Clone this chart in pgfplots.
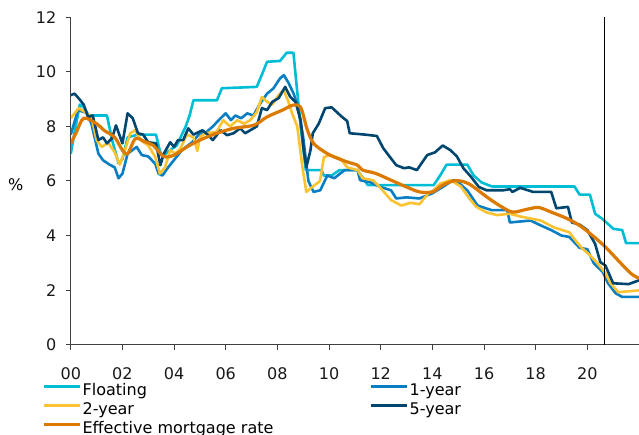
\documentclass[border=0pt]{standalone}
\usepackage{fontspec}
\setmainfont{DejaVu Sans}
\usepackage{pgfplots}
\pgfplotsset{compat=1.18}
\definecolor{cFloat}{HTML}{00BDD6}
\definecolor{cOne}{HTML}{0A7EC2}
\definecolor{cTwo}{HTML}{FBC232}
\definecolor{cFive}{HTML}{00466E}
\definecolor{cEff}{HTML}{DC7A00}
\definecolor{axgray}{HTML}{404040}
\newcommand{\fs}{\fontsize{16bp}{18bp}\selectfont}
\begin{document}
\begin{tikzpicture}
\begin{axis}[
  scale only axis,
  width=567.6bp, height=327bp,
  xmin=0, xmax=22, ymin=0, ymax=12,
  axis x line=bottom, axis y line=left,
  axis line style={-, axgray, line width=1bp},
  tick style={axgray, line width=1bp},
  tick align=outside, major tick length=5bp,
  xtick={0,2,...,22},
  xticklabels={00,02,04,06,08,10,12,14,16,18,20,{}},
  ytick={0,2,...,12},
  /pgf/number format/assume math mode=true,
  tick label style={font=\fs, text=black!90},
  yticklabel style={xshift=-6bp},
  xticklabel style={yshift=-14.5bp},
  ylabel={\%},
  every axis y label/.style={at={(axis description cs:-0.097,0.49)}, anchor=center, rotate=0, font=\fs},
  legend columns=2,
  legend cell align=left,
  legend style={at={(axis description cs:0,0)}, anchor=north west,
    xshift=-28.5bp, yshift=-38.9bp, draw=none, fill=none, inner sep=0pt,
    font=\fs, row sep=3.85bp,
    nodes={inner sep=0pt, text height=11.5bp, text depth=3.5bp},
    /tikz/every odd column/.append style={column sep=1bp},
    /tikz/every even column/.append style={column sep=96bp}},
  legend image code/.code={\path (0bp,0bp); \draw[#1, line width=3bp] (0bp,5bp) -- (36bp,5bp);},
  line join=round,
]
\addplot[cFloat, line width=2.6bp] coordinates {
(0,7.0) (0.15,7.8) (0.35,8.8) (0.5,8.7) (0.7,8.4) (1.0,8.4) (1.4,8.4) (1.6,7.5) (1.85,6.65) (2.0,6.8) (2.2,7.6) (2.6,7.7) (3.0,7.7) (3.3,7.7) (3.45,7.1) (3.55,6.9) (3.8,7.1) (4.1,7.3) (4.3,7.7) (4.45,8.0) (4.6,8.4) (4.75,8.96) (5.66,8.96) (5.85,9.4) (7.2,9.45) (7.4,9.9) (7.6,10.37) (8.1,10.4) (8.36,10.7) (8.62,10.7) (8.9,8.0) (9.1,6.4) (9.7,6.4) (9.8,6.2) (10.1,6.2) (10.4,6.4) (11.1,6.4) (11.5,5.85) (14.05,5.85) (14.3,6.2) (14.55,6.6) (15.35,6.6) (15.6,6.2) (15.9,5.95) (16.3,5.8) (19.5,5.8) (19.7,5.5) (20.1,5.5) (20.3,4.8) (20.6,4.6) (21.0,4.25) (21.35,4.2) (21.5,3.72) (22,3.72)
};
\addlegendentry{Floating}
\addplot[cOne, line width=2.6bp] coordinates {
(0,7.7) (0.28,8.6) (0.6,8.5) (0.8,8.1) (1.07,7.0) (1.25,6.76) (1.5,6.6) (1.7,6.5) (1.85,6.1) (2.0,6.27) (2.2,7.0) (2.55,7.25) (2.75,6.95) (3.0,6.9) (3.27,6.63) (3.4,6.27) (3.55,6.2) (3.77,6.5) (4.05,6.83) (4.3,7.13) (4.7,7.42) (5.0,7.75) (5.2,7.75) (5.5,8.0) (5.8,8.3) (6.0,8.48) (6.2,8.23) (6.37,8.4) (6.6,8.3) (6.83,8.48) (7.07,8.4) (7.34,8.85) (7.6,9.2) (7.85,9.4) (8.1,9.76) (8.25,9.88) (8.43,9.6) (8.63,9.2) (8.8,8.7) (9.0,7.6) (9.2,6.0) (9.4,5.6) (9.66,5.66) (9.93,6.2) (10.2,6.1) (10.6,6.4) (11.1,6.4) (11.2,6.03) (11.6,5.95) (12.0,5.78) (12.4,5.66) (12.6,5.36) (13.0,5.4) (13.5,5.36) (14.0,5.55) (14.4,5.78) (14.8,6.03) (15.0,5.96) (15.2,5.78) (15.35,5.66) (15.75,5.1) (16.3,4.93) (16.9,4.93) (17.0,4.48) (17.8,4.55) (18.2,4.37) (18.6,4.2) (19.0,4.0) (19.3,3.95) (19.7,3.55) (20.0,3.5) (20.25,2.98) (20.6,2.66) (20.8,2.25) (21.1,1.88) (21.35,1.75) (22,1.75)
};
\addlegendentry{1-year}
\addplot[cTwo, line width=2.6bp] coordinates {
(0,8.3) (0.3,8.67) (0.6,8.5) (0.8,8.35) (1.0,7.5) (1.2,7.25) (1.45,7.4) (1.7,7.05) (1.9,6.6) (2.1,7.13) (2.3,7.75) (2.5,7.86) (2.7,7.5) (3.0,7.3) (3.27,6.88) (3.45,6.27) (3.65,6.5) (3.85,7.13) (4.05,7.0) (4.25,7.2) (4.5,7.7) (4.75,7.6) (4.9,7.1) (5.0,7.6) (5.2,7.75) (5.65,7.8) (5.9,8.23) (6.17,8.0) (6.45,8.23) (6.7,8.1) (6.95,8.23) (7.2,8.52) (7.4,9.08) (7.6,8.9) (7.8,8.8) (8.05,9.15) (8.24,9.33) (8.4,8.97) (8.57,8.48) (8.77,8.0) (8.97,6.5) (9.12,5.6) (9.35,5.78) (9.65,6.0) (9.8,6.88) (10.05,6.94) (10.44,6.82) (10.7,6.5) (11.1,6.4) (11.3,6.1) (11.7,6.03) (12.0,5.74) (12.4,5.3) (12.8,5.1) (13.15,5.2) (13.5,5.15) (13.85,5.55) (14.05,5.66) (14.3,5.9) (14.7,6.03) (15.1,5.8) (15.4,5.4) (15.7,5.05) (16.1,4.85) (16.5,4.75) (17.0,4.8) (17.4,4.7) (18.2,4.55) (18.7,4.3) (19.3,4.12) (19.6,3.75) (19.8,3.53) (20.1,3.28) (20.4,2.98) (20.7,2.62) (20.9,2.25) (21.2,1.92) (21.5,1.95) (22,1.99)
};
\addlegendentry{2-year}
\addplot[cFive, line width=2.6bp] coordinates {
(0,9.15) (0.15,9.2) (0.36,8.97) (0.5,8.8) (0.67,8.35) (0.85,8.4) (1.07,7.5) (1.25,7.6) (1.4,7.38) (1.6,7.57) (1.75,8.04) (2.0,7.38) (2.2,8.48) (2.4,8.3) (2.6,7.75) (2.8,7.7) (3.0,7.42) (3.3,7.38) (3.47,6.58) (3.6,7.0) (3.85,7.42) (4.0,7.25) (4.15,7.5) (4.35,7.5) (4.55,7.93) (4.75,7.7) (5.1,7.86) (5.3,7.7) (5.5,7.5) (5.8,7.86) (6.05,7.68) (6.3,7.75) (6.56,7.93) (6.75,7.75) (6.95,7.86) (7.2,8.0) (7.4,8.67) (7.6,8.6) (7.8,8.9) (8.05,9.04) (8.3,9.45) (8.5,9.08) (8.7,8.9) (8.9,8.23) (9.02,7.13) (9.12,6.5) (9.28,7.13) (9.37,7.75) (9.6,8.1) (9.85,8.67) (10.1,8.7) (10.5,8.35) (10.7,8.2) (10.8,7.75) (11.4,7.7) (11.85,7.65) (12.1,7.2) (12.3,6.95) (12.6,6.58) (12.9,6.47) (13.1,6.5) (13.4,6.4) (13.8,6.95) (14.1,7.05) (14.4,7.3) (14.7,7.13) (14.95,6.9) (15.2,6.47) (15.5,6.15) (15.8,5.78) (16.1,5.66) (16.75,5.66) (17.0,5.7) (17.1,5.6) (17.4,5.75) (17.9,5.6) (18.6,5.6) (18.8,5.0) (19.25,5.05) (19.4,4.48) (19.7,4.4) (20.0,4.2) (20.3,3.7) (20.5,3.03) (20.7,2.9) (21.0,2.25) (21.6,2.22) (22,2.36)
};
\addlegendentry{5-year}
\addplot[cEff, line width=3.2bp, smooth, tension=0.5] coordinates {
(0,7.38) (0.2,7.75) (0.5,8.3) (1.0,8.1) (1.3,7.85) (1.7,7.6) (2.0,7.13) (2.2,7.0) (2.5,7.55) (2.85,7.45) (3.2,7.3) (3.6,6.9) (4.0,6.95) (4.5,7.25) (5.0,7.5) (5.65,7.75) (6.3,7.93) (7.1,8.05) (7.6,8.35) (8.2,8.6) (8.6,8.78) (8.9,8.7) (9.15,7.9) (9.4,7.38) (9.85,7.05) (10.2,6.88) (10.7,6.7) (11.1,6.58) (11.3,6.4) (11.8,6.28) (12.4,6.03) (13.0,5.78) (13.5,5.6) (14.0,5.6) (14.4,5.85) (14.8,6.0) (15.1,6.0) (15.4,5.9) (15.6,5.78) (16.1,5.42) (16.6,5.1) (17.1,4.86) (17.6,4.95) (18.1,5.03) (18.6,4.86) (19.2,4.63) (19.7,4.37) (20.2,4.0) (20.7,3.58) (21.3,2.98) (21.7,2.6) (22,2.43)
};
\addlegendentry{Effective mortgage rate}
\addplot[black, line width=1.2bp, forget plot] coordinates {(20.67,0) (20.67,12)};
\end{axis}
\pgfresetboundingbox
\useasboundingbox (-70.7bp,-89.7bp) rectangle (567.6bp,344.3bp);
\end{tikzpicture}
\end{document}
